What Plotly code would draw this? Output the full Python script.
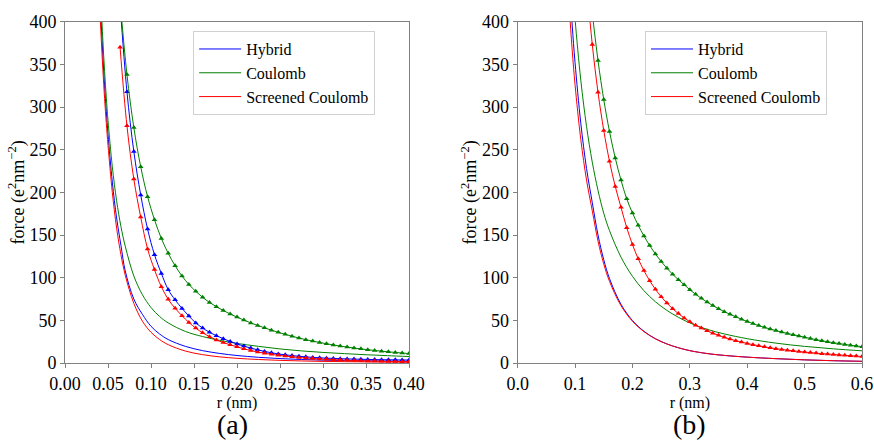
import plotly.graph_objects as go

# ---------------- data: panel (a) ----------------
ra_solid = [0.040, 0.042, 0.044, 0.046, 0.048, 0.050, 0.055, 0.060, 0.065, 0.070, 0.080, 0.090,
            0.100, 0.110, 0.120, 0.140, 0.160, 0.180, 0.200, 0.225, 0.250, 0.275, 0.300, 0.325,
            0.350, 0.375, 0.400]
a_hybrid_solid = [445, 400, 360, 325, 295, 268, 212, 170, 138, 108, 75, 57, 43, 34, 27.5, 19.5,
                  14.5, 11.2, 8.8, 6.7, 5.2, 4.1, 3.4, 2.9, 2.5, 2.2, 2.0]
a_coulomb_solid = [470, 420, 378, 342, 311, 284, 230, 190, 160, 137, 102, 80, 65, 54.5, 47, 37,
                   31, 26.5, 23, 19.5, 16.5, 14.2, 12.4, 11, 9.7, 8.6, 7.6]
a_screened_solid = [425, 382, 344, 310, 281, 255, 200, 158, 127, 103, 70, 49, 36, 27.5, 21.5, 14,
                    9.8, 7.2, 5.5, 4.1, 3.1, 2.4, 1.9, 1.6, 1.35, 1.15, 1.0]

ra_mark = [0.064, 0.072, 0.080, 0.088, 0.096, 0.104, 0.112, 0.120, 0.128, 0.136, 0.144, 0.152,
           0.160, 0.168, 0.176, 0.184, 0.192, 0.200, 0.208, 0.216, 0.224, 0.232, 0.240, 0.248,
           0.256, 0.264, 0.272, 0.280, 0.288, 0.296, 0.304, 0.312, 0.320, 0.328, 0.336, 0.344,
           0.352, 0.360, 0.368, 0.376, 0.384, 0.392, 0.400]
a_coulomb_mark = [425, 338, 276, 230, 195, 168, 146, 128.5, 114, 102, 92, 84, 77, 71, 66, 61.5,
                  57.5, 53.8, 50.3, 47, 44, 41.2, 38.5, 36, 33.6, 31.4, 29.3, 27.4, 25.7, 24.1,
                  22.6, 21.2, 19.9, 18.7, 17.6, 16.6, 15.6, 14.7, 13.9, 13.1, 12.4, 11.7, 11.1]
a_hybrid_mark = [421, 318, 248, 197, 157, 127, 105, 86, 74, 64, 55, 47, 41, 36, 32, 28.5, 25.3,
                 22.4, 19.8, 17.5, 15.4, 13.6, 12.0, 10.7, 9.6, 8.7, 7.9, 7.2, 6.6, 6.1, 5.7, 5.4,
                 5.1, 4.8, 4.6, 4.4, 4.2, 4.0, 3.9, 3.8, 3.7, 3.6, 3.5]
a_screened_mark = [370, 278, 215.6, 171, 133.7, 109.5, 89.4, 74.6, 64.1, 55.5, 47.5, 40.9, 35.4,
                   30.9, 27.1, 24.0, 21.3, 19.0, 16.6, 14.6, 12.9, 11.5, 10.2, 9.1, 8.1, 7.2, 6.5,
                   5.8, 5.3, 4.75, 4.3, 3.9, 3.53, 3.21, 2.93, 2.67, 2.45, 2.25, 2.06, 1.9, 1.75,
                   1.62, 1.5]

# ---------------- data: panel (b) ----------------
rb_solid = [0.080, 0.085, 0.090, 0.095, 0.100, 0.110, 0.120, 0.130, 0.140, 0.150, 0.160, 0.180,
            0.200, 0.220, 0.240, 0.260, 0.280, 0.300, 0.330, 0.360, 0.400, 0.450, 0.500, 0.550,
            0.600]
b_coulomb_solid = [636.9, 562.3, 500.2, 447.7, 403, 331.5, 277.3, 235.4, 202.2, 175.5, 155.2,
                   124.1, 101.6, 84.8, 71.8, 61.7, 53.6, 47.0, 39.5, 34.1, 28.5, 23.3, 19.5, 16.6,
                   14.3]
b_screened_solid = [544.8, 473.9, 415.5, 366.9, 326.1, 261.9, 214.4, 178.4, 142.8, 116.1, 95.7,
                    67.2, 49.0, 36.8, 28.3, 22.3, 17.9, 14.5, 11.1, 8.9, 6.9, 5.1, 3.7, 2.7, 2.0]
b_hybrid_solid = [588, 512, 449, 396, 352, 281, 228, 188, 150, 121, 99, 68.8, 49.8, 37.2, 28.5,
                  22.4, 17.9, 14.5, 11.1, 8.9, 6.9, 5.1, 3.7, 2.7, 2.0]

rb_mark = [0.12, 0.13, 0.14, 0.15, 0.16, 0.17, 0.18, 0.19, 0.20, 0.21, 0.22, 0.23, 0.24, 0.25,
           0.26, 0.27, 0.28, 0.29, 0.30, 0.31, 0.32, 0.33, 0.34, 0.35, 0.36, 0.37, 0.38, 0.39,
           0.40, 0.41, 0.42, 0.43, 0.44, 0.45, 0.46, 0.47, 0.48, 0.49, 0.50, 0.51, 0.52, 0.53,
           0.54, 0.55, 0.56, 0.57, 0.58, 0.59, 0.60]
b_coulomb_mark = [482, 411, 354.4, 308.7, 271.3, 240.3, 214.4, 192.4, 175.9, 161.5, 148.9, 137.7,
                  127.8, 119.0, 111.1, 104.0, 97.6, 91.8, 85.9, 80.6, 75.8, 71.4, 67.3, 63.6,
                  60.2, 57.1, 54.2, 51.3, 48.7, 46.2, 43.9, 41.8, 39.8, 38.0, 36.3, 34.7, 33.2,
                  31.8, 30.2, 28.8, 27.4, 26.1, 24.9, 23.8, 22.8, 21.8, 20.9, 20.0, 19.2]
b_screened_mark = [445, 373.4, 317.2, 272.6, 236.4, 207.0, 182.5, 158.6, 138.8, 122.2, 108.3,
                   96.5, 86.4, 77.7, 70.2, 63.6, 57.9, 52.8, 48.4, 44.4, 40.9, 37.7, 34.9, 32.4,
                   30.1, 28.0, 26.2, 24.5, 22.9, 21.5, 20.2, 19.0, 17.9, 16.8, 15.9, 15.1, 14.3,
                   13.5, 12.8, 12.2, 11.6, 11.0, 10.5, 10.0, 9.5, 9.0, 8.6, 8.1, 7.7]

colors = {"Hybrid": "#0000ff", "Coulomb": "#008000", "Screened Coulomb": "#ff0000"}
xa_ticks = [0.00, 0.05, 0.10, 0.15, 0.20, 0.25, 0.30, 0.35, 0.40]
xb_ticks = [0.0, 0.1, 0.2, 0.3, 0.4, 0.5, 0.6]
y_ticks = [0, 50, 100, 150, 200, 250, 300, 350, 400]

FONT = "Liberation Serif"
TICKFONT = "Times New Roman"

fig = go.Figure()

def solid(x, y, name, xa, ya, legend, show):
    fig.add_trace(go.Scatter(x=x, y=y, mode="lines", name=name, line=dict(color=colors[name], width=1),
                             line_shape="spline", xaxis=xa, yaxis=ya, legend=legend, showlegend=show))

def marked(x, y, name, xa, ya):
    fig.add_trace(go.Scatter(x=x, y=y, mode="lines+markers", name=name,
                             line=dict(color=colors[name], width=1), line_shape="spline",
                             marker=dict(symbol="triangle-up", size=5, color=colors[name]),
                             xaxis=xa, yaxis=ya, showlegend=False, cliponaxis=True))

# panel (a)
solid(ra_solid, a_hybrid_solid, "Hybrid", "x", "y", "legend", True)
solid(ra_solid, a_coulomb_solid, "Coulomb", "x", "y", "legend", True)
solid(ra_solid, a_screened_solid, "Screened Coulomb", "x", "y", "legend", True)
marked(ra_mark, a_hybrid_mark, "Hybrid", "x", "y")
marked(ra_mark, a_coulomb_mark, "Coulomb", "x", "y")
marked(ra_mark, a_screened_mark, "Screened Coulomb", "x", "y")

# panel (b)
solid(rb_solid, b_hybrid_solid, "Hybrid", "x2", "y2", "legend2", True)
solid(rb_solid, b_coulomb_solid, "Coulomb", "x2", "y2", "legend2", True)
solid(rb_solid, b_screened_solid, "Screened Coulomb", "x2", "y2", "legend2", True)
marked(rb_mark, b_coulomb_mark, "Coulomb", "x2", "y2")
marked(rb_mark, b_screened_mark, "Screened Coulomb", "x2", "y2")

axis_common = dict(showline=True, linecolor="#808080", linewidth=1, mirror=True, ticks="outside",
                   ticklen=4, tickcolor="#808080", showgrid=False, zeroline=False, automargin=False)
tickfont = dict(family=TICKFONT, size=18, color="black")

ytitle = "force (e<sup>2</sup>nm<sup>−2</sup>)"
legend_common = dict(xanchor="left", yanchor="top", bgcolor="white", bordercolor="#d0d0d0",
                     borderwidth=1, font=dict(family=FONT, size=16, color="black"),
                     tracegroupgap=0, itemwidth=42)
fig.update_layout(
    template="none",
    width=874, height=444, margin=dict(l=0, r=0, t=0, b=0, autoexpand=False),
    paper_bgcolor="white", plot_bgcolor="white",
    font=dict(family=FONT, color="black"),
    xaxis=dict(domain=[0.0744, 0.468], range=[0, 0.4], tickvals=xa_ticks, tickformat=".2f",
               tickfont=tickfont,
               title=dict(text="r (nm)", font=dict(family=FONT, size=16), standoff=0), anchor="y",
               **axis_common),
    yaxis=dict(domain=[0.1824, 0.9511], range=[0, 400], tickvals=y_ticks, anchor="x",
               tickfont=tickfont,
               title=dict(text=ytitle, font=dict(family=FONT, size=18), standoff=0), **axis_common),
    xaxis2=dict(domain=[0.5923, 0.9863], range=[0, 0.6], tickvals=xb_ticks, tickformat=".1f",
                tickfont=tickfont,
                title=dict(text="r (nm)", font=dict(family=FONT, size=16), standoff=0), anchor="y2",
                **axis_common),
    yaxis2=dict(domain=[0.1824, 0.9511], range=[0, 400], tickvals=y_ticks, anchor="x2",
                tickfont=tickfont,
                title=dict(text=ytitle, font=dict(family=FONT, size=18), standoff=0), **axis_common),
    legend=dict(x=0.221, y=0.930, **legend_common),
    legend2=dict(x=0.738, y=0.930, **legend_common),
    annotations=[
        dict(text="(a)", x=0.266, y=0.043, xref="paper", yref="paper", xanchor="center",
             yanchor="middle", showarrow=False, font=dict(family=FONT, size=28, color="black")),
        dict(text="(b)", x=0.789, y=0.043, xref="paper", yref="paper", xanchor="center",
             yanchor="middle", showarrow=False, font=dict(family=FONT, size=28, color="black")),
    ],
)

fig.write_html("out.html")
